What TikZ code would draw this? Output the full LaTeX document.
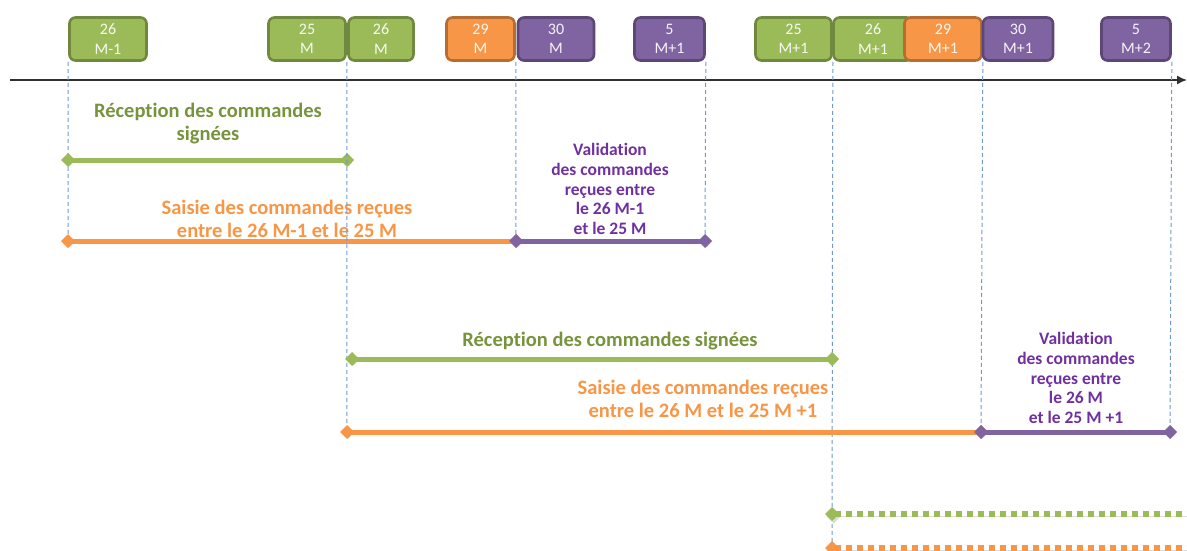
\documentclass[tikz,border=0pt]{standalone}
\usepackage{fontspec}
\setmainfont{Carlito}[Ligatures=NoCommon]
\usetikzlibrary{arrows.meta,positioning}

\definecolor{vert}{HTML}{9BBB59}
\definecolor{vertbord}{HTML}{71893F}
\definecolor{verttexte}{HTML}{77933C}
\definecolor{orangeclair}{HTML}{F79646}
\definecolor{orangebord}{HTML}{B66D31}
\definecolor{violet}{HTML}{8064A2}
\definecolor{violetbord}{HTML}{5C4776}
\definecolor{violettexte}{HTML}{7030A0}
\definecolor{repbleu}{HTML}{6F9BD2}
\definecolor{axegris}{HTML}{303030}

\tikzset{
  jour/.style={rounded corners=6pt, line width=2.6pt, minimum height=43pt,
    inner sep=0pt, align=center, text=white, text opacity=0.92,
    font=\fontsize{16}{19.5}\selectfont},
  jourvert/.style={jour, fill=vert, draw=vertbord},
  jourorange/.style={jour, fill=orangeclair, draw=orangebord},
  jourviolet/.style={jour, fill=violet, draw=violetbord},
  repere/.style={draw=repbleu, line width=1pt, dash pattern=on 4pt off 3pt},
  periode/.style={line width=5pt, shorten <=-7pt, shorten >=-7pt,
    {Turned Square[width=14pt,length=14pt]}-{Turned Square[width=14pt,length=14pt]},
    preaction={draw=black!14, transform canvas={shift={(1.5pt,-2.5pt)}}}},
  pointille/.style={periode, line width=6pt, dash pattern=on 6pt off 5pt},
  titre/.style={align=center, font=\bfseries\fontsize{20.5}{23}\selectfont},
  petittitre/.style={align=center, text=violettexte,
    font=\bfseries\fontsize{17.5}{19.6}\selectfont}
}

\begin{document}
\begin{tikzpicture}[x=1pt,y=-1pt]
\useasboundingbox (0,0) rectangle (1187,551);

% les jours
\node[jourvert, minimum width=77pt] (b1) at (108,39) {26\\M-1};
\node[jourvert, minimum width=77pt] (b2) at (307,39) {25\\M};
\node[jourvert, minimum width=65pt] (b3) at (381,39) {26\\M};
\node[jourorange, minimum width=68pt] (b4) at (480.5,39) {29\\M};
\node[jourviolet, minimum width=76pt] (b5) at (556,39) {30\\M};
\node[jourviolet, minimum width=70pt] (b6) at (669.5,39) {5\\M+1};
\node[jourvert, minimum width=76pt] (b7) at (793.5,39) {25\\M+1};
\node[jourvert, minimum width=79pt] (b8) at (873,39) {26\\M+1};
\node[jourorange, minimum width=77pt] (b9) at (943,39) {29\\M+1};
\node[jourviolet, minimum width=70pt] (b10) at (1018,39) {30\\M+1};
\node[jourviolet, minimum width=69pt] (b11) at (1136,39) {5\\M+2};

% axe du temps
\coordinate (a0) at (10,80);
\coordinate (a1) at (1187,80);
\draw[axegris, line width=1.5pt, -{Latex[length=10pt,width=9pt]}] (a0) -- (a1);

% mois M
\coordinate (v1) at (68,160);
\coordinate (v2) at (347,160);
\coordinate (s1) at (68,241);
\coordinate (s2) at (516,241);
\coordinate (s3) at (705,241);
\draw[repere] (b1.south west) -- (s1);
\draw[repere] (b4.south east) -- (s2);
\draw[repere] (b6.south east) -- (s3);

\node[titre, text=verttexte] (tv1) at (208,124) {Réception des commandes\\signées};
\draw[periode, vert] (v1) -- (v2);
\node[titre, text=orangeclair] (ts1) at (287,219) {Saisie des commandes reçues\\entre le 26 M-1 et le 25 M};
\draw[periode, orangeclair] (s1) -- (s2);
\node[petittitre] (tc1) at (610,189) {Validation\\des commandes\\reçues entre\\le 26 M-1\\et le 25 M};
\draw[periode, violet] (s2) -- (s3);

% mois M+1
\coordinate (v3) at (352,359);
\coordinate (v4) at (832,359);
\coordinate (s4) at (347,432);
\coordinate (s5) at (981,432);
\coordinate (s6) at (1170,432);
\coordinate (d1) at (832,514);
\coordinate (d2) at (1195,514);
\coordinate (d3) at (832,548);
\coordinate (d4) at (1195,548);
\draw[repere] (b2.south east) -- (s4);
\draw[repere] (b7.south east) -- (d3);
\draw[repere] (b9.south east) -- (s5);
\draw[repere] (b11.south east) -- (s6);

\node[titre, text=verttexte] (tv2) at (610,341) {Réception des commandes signées};
\draw[periode, vert] (v3) -- (v4);
\node[titre, text=orangeclair] (ts2) at (703,399) {Saisie des commandes reçues\\entre le 26 M et le 25 M +1};
\draw[periode, orangeclair] (s4) -- (s5);
\node[petittitre] (tc2) at (1076,378) {Validation\\des commandes\\reçues entre\\le 26 M\\et le 25 M +1};
\draw[periode, violet] (s5) -- (s6);

% suite
\draw[pointille, vert] (d1) -- (d2);
\draw[pointille, orangeclair] (d3) -- (d4);
\end{tikzpicture}
\end{document}
